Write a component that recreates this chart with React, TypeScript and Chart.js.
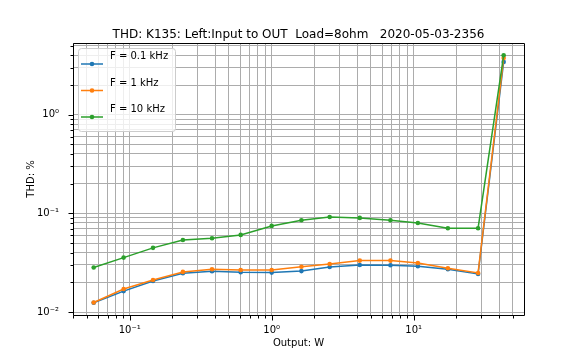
import React, { useEffect, useRef } from "react";
import { Chart, registerables } from "chart.js";
Chart.register(...registerables);

const outputW = [0.0558, 0.0907, 0.146, 0.237, 0.38, 0.605, 1.0, 1.62, 2.56, 4.17, 6.86, 10.7, 17.4, 28.4, 43.0];
const thd01k = [0.0124, 0.0163, 0.0206, 0.0247, 0.0259, 0.0253, 0.0251, 0.026, 0.0286, 0.03, 0.0298, 0.0291, 0.0271, 0.0243, 3.43];
const thd1k = [0.0125, 0.0171, 0.0211, 0.0255, 0.0271, 0.0267, 0.0267, 0.0288, 0.0307, 0.0332, 0.0332, 0.0314, 0.0278, 0.0249, 3.75];
const thd10k = [0.0283, 0.0356, 0.0447, 0.0538, 0.056, 0.0605, 0.0746, 0.0853, 0.092, 0.09, 0.0853, 0.08, 0.0707, 0.0707, 4.0];

const seriesLabels = ["F = 0.1 kHz", "F = 1 kHz", "F = 10 kHz"];
const seriesColors = ["#1f77b4", "#ff7f0e", "#2ca02c"];

const xTickValues = [0.1, 1, 10];
const xTickLabels = ["10\u207b\u00b9", "10\u2070", "10\u00b9"];
const yTickValues = [0.01, 0.1, 1];
const yTickLabels = ["10\u207b\u00b2", "10\u207b\u00b9", "10\u2070"];

const titleText = "THD: K135: Left:Input to OUT  Load=8ohm   2020-05-03-2356";
const xTitle = "Output: W";
const yTitle = "THD: %";

const X_MIN = 0.0399, X_MAX = 59.8;
const Y_MIN = 0.00933, Y_MAX = 5.33;

const FONT = "'DejaVu Sans', sans-serif";
const GRID = "#acacac";

function isDecade(v: number) {
  const l = Math.log10(v);
  return Math.abs(l - Math.round(l)) < 1e-6;
}

function labelFor(v: number, vals: number[], labels: string[]) {
  for (let i = 0; i < vals.length; i++) {
    if (Math.abs(Math.log10(v) - Math.log10(vals[i])) < 1e-6) return labels[i];
  }
  return "";
}

function logTicks(min: number, max: number) {
  const out: { value: number }[] = [];
  for (let e = Math.floor(Math.log10(min)); e <= Math.ceil(Math.log10(max)); e++) {
    for (let m = 1; m <= 9; m++) {
      const v = parseFloat((m * Math.pow(10, e)).toPrecision(6));
      if (v >= min && v <= max) out.push({ value: v });
    }
  }
  return out;
}

const bgPlugin = {
  id: "bg",
  beforeDraw(chart: any) {
    const { ctx, width, height } = chart;
    ctx.save();
    ctx.fillStyle = "#ffffff";
    ctx.fillRect(0, 0, width, height);
    ctx.restore();
  },
};

const decorPlugin = {
  id: "decor",
  afterDatasetsDraw(chart: any) {
    const { ctx, chartArea: a, scales } = chart;
    ctx.save();
    ctx.strokeStyle = "#000";
    ctx.lineWidth = 1;
    const L = Math.round(a.left) + 0.5;
    const R = Math.round(a.right) + 0.5;
    const T = Math.round(a.top) + 0.5;
    const B = Math.round(a.bottom) + 0.5;
    ctx.beginPath();
    ctx.rect(L, T, R - L, B - T);
    ctx.stroke();
    ctx.beginPath();
    for (const t of scales.x.ticks) {
      const px = Math.round(scales.x.getPixelForValue(t.value)) + 0.5;
      const len = isDecade(t.value) ? 5 : 3;
      ctx.moveTo(px, B);
      ctx.lineTo(px, B + len);
    }
    for (const t of scales.y.ticks) {
      const py = Math.round(scales.y.getPixelForValue(t.value)) + 0.5;
      const len = isDecade(t.value) ? 5 : 3;
      ctx.moveTo(L, py);
      ctx.lineTo(L - len, py);
    }
    ctx.stroke();

    // title
    ctx.fillStyle = "#000";
    ctx.font = `12px ${FONT}`;
    ctx.textAlign = "center";
    ctx.textBaseline = "alphabetic";
    ctx.fillText(titleText, (a.left + a.right) / 2, 37.5);

    // legend
    const bx = 78, by = 48, bw = 97, bh = 83;
    ctx.beginPath();
    (ctx as any).roundRect(bx + 0.5, by + 0.5, bw, bh, 3);
    ctx.fillStyle = "rgba(255,255,255,0.8)";
    ctx.fill();
    ctx.strokeStyle = "#cccccc";
    ctx.stroke();
    const handleY = [64, 90.5, 117];
    const textY = [56, 83, 109];
    ctx.font = `10px ${FONT}`;
    ctx.textAlign = "left";
    ctx.textBaseline = "middle";
    for (let i = 0; i < 3; i++) {
      ctx.strokeStyle = seriesColors[i];
      ctx.lineWidth = 1.5;
      ctx.beginPath();
      ctx.moveTo(81, handleY[i]);
      ctx.lineTo(103, handleY[i]);
      ctx.stroke();
      ctx.fillStyle = seriesColors[i];
      ctx.beginPath();
      ctx.arc(92, handleY[i], 2.3, 0, Math.PI * 2);
      ctx.fill();
      ctx.fillStyle = "#000";
      ctx.fillText(seriesLabels[i], 110, textY[i]);
    }
    ctx.restore();
  },
};

export default function App() {
  const ref = useRef<HTMLCanvasElement | null>(null);
  useEffect(() => {
    if (!ref.current) return;
    const series = [thd01k, thd1k, thd10k];
    const chart = new Chart(ref.current, {
      type: "line",
      data: {
        datasets: series.map((s, i) => ({
          label: seriesLabels[i],
          data: outputW.map((x, j) => ({ x, y: s[j] })),
          borderColor: seriesColors[i],
          backgroundColor: seriesColors[i],
          borderWidth: 1.5,
          pointRadius: 2.3,
          pointBorderWidth: 0,
          pointBackgroundColor: seriesColors[i],
          fill: false,
          tension: 0,
          order: 3 - i,
        })),
      },
      options: {
        responsive: false,
        devicePixelRatio: 1,
        animation: false,
        layout: { padding: { top: 43, right: 58, left: 0, bottom: 0 } },
        plugins: {
          legend: { display: false },
          title: { display: false },
          tooltip: { enabled: false },
        },
        scales: {
          x: {
            type: "logarithmic",
            min: X_MIN,
            max: X_MAX,
            afterBuildTicks: (scale: any) => {
              scale.ticks = logTicks(X_MIN, X_MAX);
            },
            afterFit: (scale: any) => {
              scale.height = 45;
            },
            grid: { color: GRID, lineWidth: 1, drawTicks: false },
            border: { display: false },
            ticks: {
              autoSkip: false,
              maxRotation: 0,
              minRotation: 0,
              padding: 9,
              color: "#000",
              font: { family: FONT, size: 10 },
              callback: (v: any) => labelFor(Number(v), xTickValues, xTickLabels),
            },
            title: {
              display: true,
              text: xTitle,
              color: "#000",
              font: { family: FONT, size: 10 },
              padding: { top: 0, bottom: 10.5 },
            },
          },
          y: {
            type: "logarithmic",
            min: Y_MIN,
            max: Y_MAX,
            afterBuildTicks: (scale: any) => {
              scale.ticks = logTicks(Y_MIN, Y_MAX);
            },
            afterFit: (scale: any) => {
              scale.width = 73;
            },
            grid: { color: GRID, lineWidth: 1, drawTicks: false },
            border: { display: false },
            ticks: {
              autoSkip: false,
              padding: 14,
              color: "#000",
              font: { family: FONT, size: 10 },
              callback: (v: any) => labelFor(Number(v), yTickValues, yTickLabels),
            },
            title: {
              display: true,
              text: yTitle,
              color: "#000",
              font: { family: FONT, size: 10 },
              padding: { top: 25.5, bottom: 0 },
            },
          },
        },
      },
      plugins: [bgPlugin, decorPlugin],
    } as any);
    return () => chart.destroy();
  }, []);
  return (
    <div style={{ position: "absolute", left: 0, top: 0, width: 582, height: 360 }}>
      <canvas ref={ref} width={582} height={360} />
    </div>
  );
}
